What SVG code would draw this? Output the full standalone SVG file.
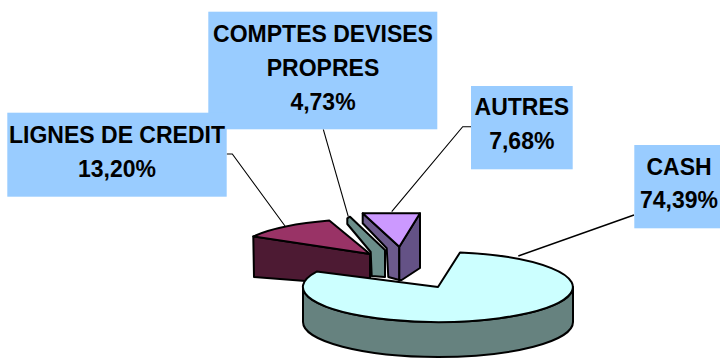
<svg xmlns="http://www.w3.org/2000/svg" width="720" height="359" viewBox="0 0 720 359">
<style>
.box{fill:#99CCFF;stroke:none}
.lbl{font-family:"Liberation Sans",Arial,sans-serif;font-weight:bold;font-size:23px;fill:#000;text-anchor:middle}
.lead{fill:none;stroke:#000;stroke-width:1.1}
.sl{stroke:#000;stroke-width:2;stroke-linejoin:round}
</style>
<rect width="720" height="359" fill="#FFFFFF"/>
<g id="slice-lignes">
<polygon class="sl" fill="#4D1A33" points="253.3,236.5 370,254 370,286 254,277"/>
<path class="sl" fill="#993366" d="M370,254 L253.3,236.5 A135,35 0 0 1 329.3,220.6 Z"/>
</g>
<g id="slice-comptes">
<polygon class="sl" fill="#6B8E8A" points="347.3,218.3 350,216.7 385,250 385,277 371.7,276 370.7,252 347.3,224"/>
</g>
<g id="slice-autres">
<polygon class="sl" fill="#6C5A8C" points="362.7,213.3 399.3,246.7 399.3,280 388.3,277 386.7,248.3 362.7,223.3"/>
<polygon class="sl" fill="#645286" points="399.3,246.7 420,213.3 420,268 401.7,280 399.3,280"/>
<polygon class="sl" fill="#CC99FF" points="362.7,213.3 420,213.3 399.3,246.7"/>
</g>
<g id="slice-cash">
<path class="sl" fill="#66827F" d="M303,287 A135,35 0 0 0 573,287 L573,322 A135,35 0 0 1 303,322 Z"/>
<path class="sl" fill="#CCFFFF" d="M438,287 L316.7,271.6 A135,35 0 1 0 460,252.5 Z"/>
</g>
<g id="connectors">
<polyline class="lead" points="226.7,154 232.3,154 285,226"/>
<polyline class="lead" points="323.3,129.3 348.3,216.7"/>
<polyline class="lead" points="471,126.7 462.7,126.7 391.7,211.7"/>
<polyline class="lead" style="stroke-width:1.5" points="634,215 518.3,256"/>
</g>
<g id="label-comptes">
<rect class="box" x="208.3" y="11.7" width="229" height="117.6"/>
<text class="lbl" x="323" y="42">COMPTES DEVISES</text>
<text class="lbl" x="323" y="76">PROPRES</text>
<text class="lbl" x="323" y="110">4,73%</text>
</g>
<g id="label-lignes">
<rect class="box" x="7.3" y="112.7" width="219.4" height="84"/>
<text class="lbl" x="117" y="142.7">LIGNES DE CREDIT</text>
<text class="lbl" x="117" y="176.7">13,20%</text>
</g>
<g id="label-autres">
<rect class="box" x="471" y="86" width="101.7" height="83.3"/>
<text class="lbl" x="521.8" y="115">AUTRES</text>
<text class="lbl" x="521.8" y="149.3">7,68%</text>
</g>
<g id="label-cash">
<rect class="box" x="634.3" y="145" width="89" height="83.3"/>
<text class="lbl" x="679" y="175">CASH</text>
<text class="lbl" x="679" y="208.3">74,39%</text>
</g>
</svg>
